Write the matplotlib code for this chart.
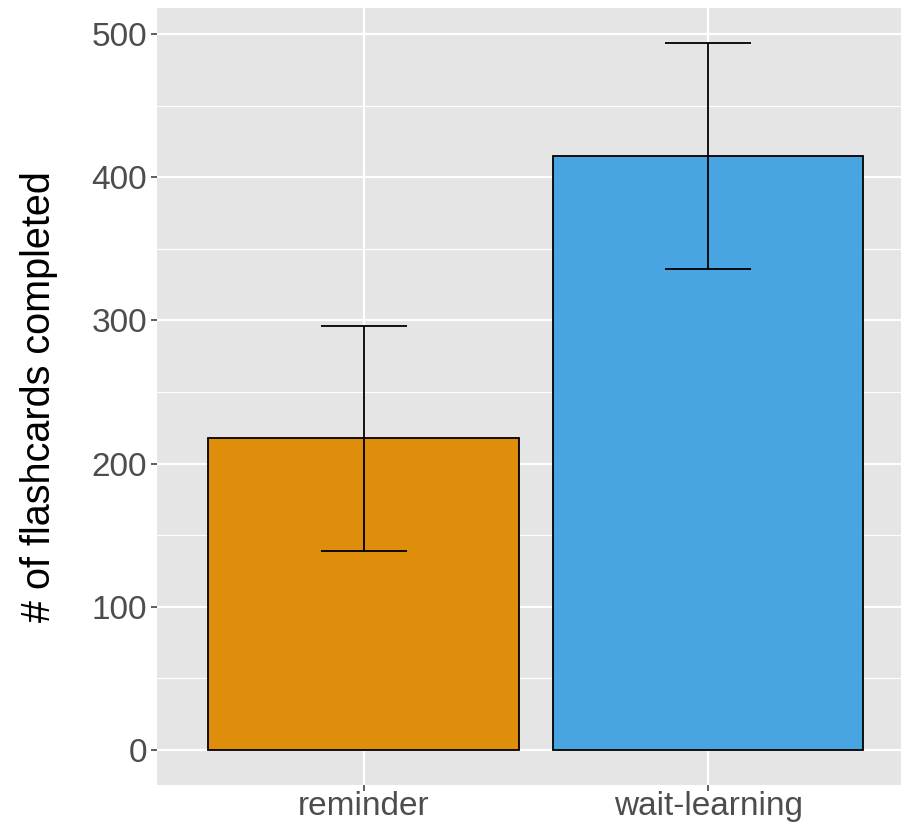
import matplotlib
matplotlib.use("Agg")
import matplotlib.pyplot as plt
import numpy as np

categories = ["reminder", "wait-learning"]
means = [217.5, 414.8]
err_low = [138.7, 336.0]
err_high = [296.3, 493.8]
colors = ["#DF8E0B", "#49A4E2"]

plt.rcParams['font.family'] = ['Liberation Sans', 'DejaVu Sans']

fig = plt.figure(figsize=(9.02, 8.23), dpi=100)
ax = fig.add_axes([157/902, 38/823, (901-157)/902, (785-8)/823])
ax.set_facecolor("#E5E5E5")
x = np.arange(1, len(categories) + 1)

ax.set_ylim(-24.7, 518.4)
ax.set_xlim(0.401, 2.559)
ax.set_yticks([0, 100, 200, 300, 400, 500])
ax.set_yticks([50, 150, 250, 350, 450], minor=True)
ax.set_xticks(x)
ax.set_xticklabels(categories)
ax.grid(True, which="major", color="white", linewidth=1.6, zorder=0)
ax.grid(True, which="minor", axis="y", color="white", linewidth=0.8, zorder=0)
ax.set_axisbelow(True)

ax.bar(x, means, width=0.9, color=colors, edgecolor="black", linewidth=1.3, zorder=2)
yerr = np.array([np.array(means) - np.array(err_low), np.array(err_high) - np.array(means)])
ax.errorbar(x, means, yerr=yerr, fmt="none", ecolor="black", elinewidth=1.3,
            capsize=31, capthick=1.3, zorder=3)

for s in ax.spines.values():
    s.set_visible(False)
ax.tick_params(axis="both", which="major", length=4, width=1.1, color="#333333",
               labelcolor="#4D4D4D", labelsize=24, pad=3)
ax.tick_params(axis="x", which="major", pad=0.5)
ax.tick_params(axis="y", which="minor", length=0)
ax.set_ylabel("# of flashcards completed", fontsize=28.5, color="black", labelpad=24)

fig.savefig("out.png", dpi=100, facecolor="white")
